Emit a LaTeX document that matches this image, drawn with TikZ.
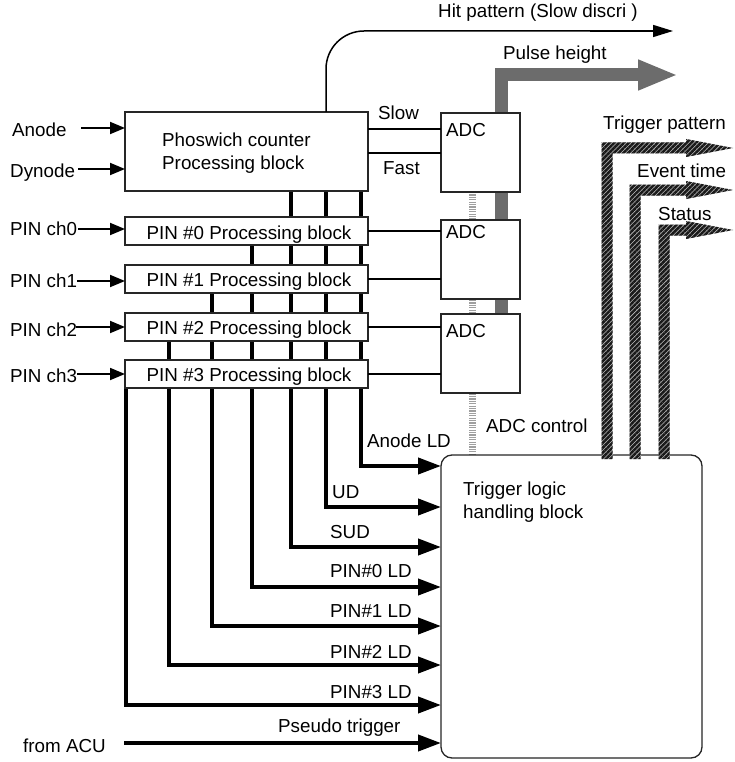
\documentclass[tikz,border=0pt]{standalone}
\usepackage{fontspec}
\setmainfont{Liberation Sans}
\usetikzlibrary{arrows.meta,patterns.meta,calc,backgrounds}
\newcommand{\hatchArrow}[2]{%
  \path[fill=gray!55] ({#1-5.5},459) -- ({#1-5.5},{#2-5.5}) -- (686,{#2-5.5}) -- (686,{#2-9}) -- (733,#2) -- (686,{#2+9}) -- (686,{#2+5.5}) -- ({#1+5.5},{#2+5.5}) -- ({#1+5.5},459) -- cycle;
  \path[pattern={Lines[angle=45,distance=3.4pt,line width=2.5pt]},pattern color=black!90] ({#1-5.5},459) -- ({#1-5.5},{#2-5.5}) -- (686,{#2-5.5}) -- (686,{#2-9}) -- (733,#2) -- (686,{#2+9}) -- (686,{#2+5.5}) -- ({#1+5.5},{#2+5.5}) -- ({#1+5.5},459) -- cycle;
}
\begin{document}
\begin{tikzpicture}[x=1pt,y=-1pt,
  txt/.style={font=\fontsize{18.8}{22}\selectfont, inner sep=0pt, anchor=base west},
  box/.style={draw=black!85, line width=1.3pt, fill=white, inner sep=0pt, outer sep=0pt},
  bus/.style={line width=4pt, -{Triangle[length=23pt,width=16pt]}},
  inarr/.style={line width=1.8pt, -{Triangle[length=15pt,width=12pt]}},
  thinln/.style={line width=1.4pt},
]
\useasboundingbox (0,0) rectangle (734,762);

% boxes
\node[box, minimum width=243pt, minimum height=79pt] (pho) at (246.5,151.5) {};
\node[box, minimum width=243pt, minimum height=28pt] (p0) at (246.5,231) {};
\node[box, minimum width=243pt, minimum height=28pt] (p1) at (246.5,279) {};
\node[box, minimum width=243pt, minimum height=28pt] (p2) at (246.5,327) {};
\node[box, minimum width=243pt, minimum height=28pt] (p3) at (246.5,374) {};
\node[box, minimum width=79pt, minimum height=79pt] (adc1) at (480.5,152.5) {};
\node[box, minimum width=79pt, minimum height=79pt] (adc2) at (480.5,259.5) {};
\node[box, minimum width=79pt, minimum height=79pt] (adc3) at (480.5,353.5) {};
\node[box, rounded corners=11pt, minimum width=261pt, minimum height=303pt] (trig) at (571.5,606.5) {};

\coordinate (pulseTop) at (501,75);
\coordinate (pulseEnd) at (678,75);
\coordinate (hitEnd) at (673,31);
\coordinate (acu) at (124,743);

\begin{scope}[on background layer]
% ADC control
\draw[line width=7pt, gray!75, dash pattern=on 1.2pt off 1.2pt] (adc1.south -| 472,0) -- (trig.north -| 472,0);
% pulse height gray bus
\draw[line width=13pt, gray!85!black, line join=miter, -{Triangle[length=40pt,width=28pt]}] (adc3.north -| 501,0) -- (pulseTop) -- (pulseEnd);
% buses
\draw[bus] (pho.south -| 361,0) |- (trig.west |- 0,466);
\draw[bus] (pho.south -| 326,0) |- (trig.west |- 0,507);
\draw[bus] (pho.south -| 291,0) |- (trig.west |- 0,547);
\draw[bus] (p0.south -| 252,0) |- (trig.west |- 0,587);
\draw[bus] (p1.south -| 212,0) |- (trig.west |- 0,626);
\draw[bus] (p2.south -| 169,0) |- (trig.west |- 0,665);
\draw[bus] (p3.south -| 126,0) |- (trig.west |- 0,705);
\end{scope}
\draw[bus] (acu) -- (trig.west |- acu);

% hatched outputs
\hatchArrow{607}{148}
\hatchArrow{635}{190}
\hatchArrow{664}{230}

% hit pattern
\draw[line width=1.5pt, rounded corners=38pt] (pho.north -| 326,0) -- (326,31) -- (600,31);
\draw[line width=1.5pt, -{Triangle[length=20pt,width=12pt]}] (590,31) -- (hitEnd);

% box-to-ADC lines
\draw[thinln] (pho.east |- 0,129) -- (adc1.west |- 0,129);
\draw[thinln] (pho.east |- 0,153) -- (adc1.west |- 0,153);
\draw[thinln] (p0.east) -- (adc2.west |- p0.east);
\draw[thinln] (p1.east) -- (adc2.west |- p1.east);
\draw[thinln] (p2.east) -- (adc3.west |- p2.east);
\draw[thinln] (p3.east) -- (adc3.west |- p3.east);

% input arrows
\coordinate (inA) at (81,128);
\coordinate (inD) at (78,169);
\coordinate (in0) at (78,229);
\coordinate (in1) at (77,281);
\coordinate (in2) at (76,327);
\coordinate (in3) at (77,374);
\draw[inarr] (inA) -- (pho.west |- inA);
\draw[inarr] (inD) -- (pho.west |- inD);
\draw[inarr] (in0) -- (p0.west |- in0);
\draw[inarr] (in1) -- (p1.west |- in1);
\draw[inarr] (in2) -- (p2.west |- in2);
\draw[inarr] (in3) -- (p3.west |- in3);

% texts
\node[txt] (tAnode) at (12,137) {Anode};
\node[txt] (tDyn) at (10,177) {Dynode};
\node[txt] (tc0) at (10,235) {PIN ch0};
\node[txt] (tc1) at (10,287) {PIN ch1};
\node[txt] (tc2) at (10,336) {PIN ch2};
\node[txt] (tc3) at (10,382) {PIN ch3};
\node[txt] (tpho1) at (162,147) {Phoswich counter};
\node[txt] (tpho2) at (162,170) {Processing block};
\node[txt, anchor=base] (tp0) at (249,239) {PIN \#0 Processing block};
\node[txt, anchor=base] (tp1) at (249,286) {PIN \#1 Processing block};
\node[txt, anchor=base] (tp2) at (249,334) {PIN \#2 Processing block};
\node[txt, anchor=base] (tp3) at (249,381) {PIN \#3 Processing block};
\node[txt] (tslow) at (378,120) {Slow};
\node[txt] (tfast) at (383,175) {Fast};
\node[txt] (ta1) at (446,137) {ADC};
\node[txt] (ta2) at (446,238) {ADC};
\node[txt] (ta3) at (446,337) {ADC};
\node[txt] (thit) at (438,18) {Hit pattern (Slow discri )};
\node[txt] (tpulse) at (503,60) {Pulse height};
\node[txt] (ttp) at (603,130) {Trigger pattern};
\node[txt] (tet) at (637,178) {Event time};
\node[txt] (tst) at (658,220) {Status};
\node[txt] (tadcc) at (486,432) {ADC control};
\node[txt] (tald) at (367,447) {Anode LD};
\node[txt] (ttl1) at (463,495) {Trigger logic};
\node[txt] (ttl2) at (463,518) {handling block};
\node[txt] (tud) at (332,498) {UD};
\node[txt] (tsud) at (330,538) {SUD};
\node[txt] (tl0) at (330,577) {PIN\#0 LD};
\node[txt] (tl1) at (330,617) {PIN\#1 LD};
\node[txt] (tl2) at (330,658) {PIN\#2 LD};
\node[txt] (tl3) at (330,698) {PIN\#3 LD};
\node[txt] (tps) at (278,732) {Pseudo trigger};
\node[txt] (tacu) at (23,752) {from ACU};
\end{tikzpicture}
\end{document}
